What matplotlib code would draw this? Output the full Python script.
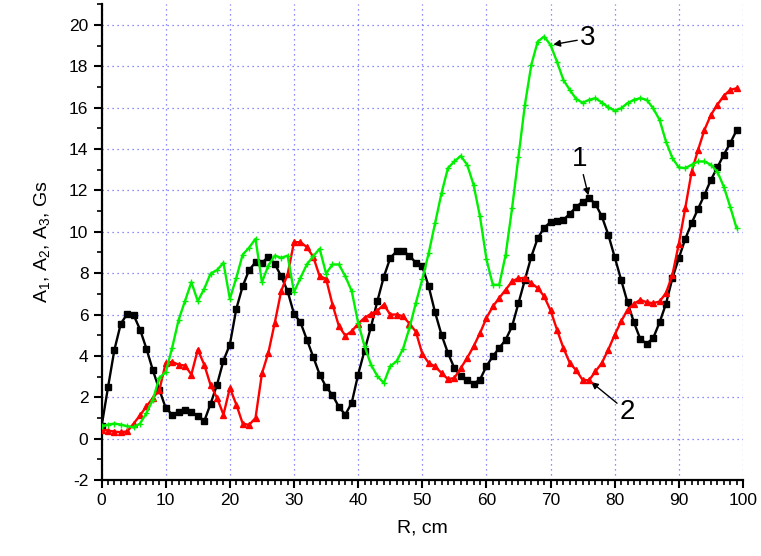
import matplotlib
matplotlib.use("Agg")
import matplotlib.pyplot as plt
from matplotlib.ticker import MultipleLocator

plt.rcParams['font.family'] = ['Liberation Sans', 'DejaVu Sans']
plt.rcParams['mathtext.default'] = 'regular'
plt.rcParams['axes.unicode_minus'] = False

# radius, cm
r = list(range(100))

# curve 1 (black squares)
a1 = [0.6, 2.48, 4.3, 5.56, 6.03, 5.97, 5.27, 4.34, 3.3, 2.37,
      1.48, 1.16, 1.29, 1.37, 1.29, 1.08, 0.84, 1.69, 2.61, 3.77,
      4.55, 6.27, 7.37, 8.15, 8.53, 8.5, 8.79, 8.45, 7.85, 7.13,
      6.03, 5.63, 4.79, 3.95, 3.1, 2.5, 2.11, 1.53, 1.16, 1.73,
      3.1, 4.26, 5.4, 6.65, 7.82, 8.73, 9.06, 9.06, 8.85, 8.5,
      8.33, 7.36, 6.1, 5.02, 4.14, 3.41, 3.04, 2.85, 2.66, 2.85,
      3.5, 3.98, 4.38, 4.78, 5.43, 6.55, 7.68, 8.8, 9.69, 10.2,
      10.47, 10.5, 10.58, 10.87, 11.2, 11.46, 11.63, 11.35, 10.74, 9.86,
      8.78, 7.68, 6.59, 5.62, 4.81, 4.59, 4.86, 5.62, 6.52, 7.76,
      8.73, 9.65, 10.42, 11.11, 11.79, 12.51, 13.11, 13.72, 14.28, 14.9]

# curve 2 (red triangles)
a2 = [0.44, 0.39, 0.34, 0.31, 0.35, 0.73, 1.13, 1.56, 1.97, 2.34,
      3.66, 3.71, 3.58, 3.53, 3.1, 4.3, 3.58, 2.58, 1.97, 1.16,
      2.45, 1.65, 0.73, 0.66, 1.0, 3.15, 4.15, 5.6, 7.13, 7.94,
      9.5, 9.5, 9.26, 8.79, 7.85, 7.73, 6.48, 5.44, 4.98, 5.19,
      5.56, 5.84, 6.03, 6.19, 6.48, 6.0, 6.0, 5.92, 5.56, 5.17,
      4.1, 3.66, 3.49, 3.17, 2.88, 2.93, 3.41, 3.9, 4.46, 5.1,
      5.83, 6.39, 6.8, 7.2, 7.6, 7.76, 7.76, 7.52, 7.28, 6.88,
      6.2, 5.27, 4.38, 3.66, 3.3, 2.84, 2.82, 3.25, 3.66, 4.3,
      5.02, 5.67, 6.23, 6.52, 6.71, 6.59, 6.55, 6.63, 7.04, 7.92,
      9.42, 11.14, 12.91, 13.96, 14.93, 15.65, 16.14, 16.57, 16.86, 16.94]

# curve 3 (green crosses)
a3 = [0.6, 0.68, 0.73, 0.68, 0.6, 0.55, 0.73, 1.24, 1.89, 2.94,
      3.21, 4.39, 5.73, 6.65, 7.56, 6.65, 7.24, 7.98, 8.15, 8.5,
      6.76, 7.77, 8.9, 9.23, 9.66, 7.56, 8.37, 8.85, 8.74, 8.85,
      7.08, 7.77, 8.42, 8.82, 9.18, 7.98, 8.42, 8.42, 7.85, 7.13,
      5.6, 4.47, 3.58, 3.02, 2.69, 3.5, 3.74, 4.34, 5.35, 6.56,
      7.7, 8.97, 10.42, 11.87, 13.08, 13.4, 13.67, 13.24, 12.27, 10.74,
      8.68, 7.44, 7.44, 8.89, 11.14, 13.64, 16.14, 18.07, 19.2, 19.44,
      19.03, 18.23, 17.34, 16.86, 16.42, 16.24, 16.38, 16.46, 16.25, 16.02,
      15.86, 15.97, 16.22, 16.38, 16.46, 16.38, 15.97, 15.41, 14.36, 13.56,
      13.11, 13.08, 13.24, 13.4, 13.4, 13.24, 12.91, 12.19, 11.22, 10.18]

fig = plt.figure(figsize=(7.61, 5.56), dpi=100)
ax = fig.add_axes([0.1335, 0.1367, 0.8428, 0.8556])

ax.plot(r, a1, color='black', lw=1.7, marker='s', ms=4.5, zorder=3)
ax.plot(r, a2, color='red', lw=1.7, marker='^', ms=5, zorder=4)
ax.plot(r, a3, color='#00f000', lw=1.7, marker='+', ms=5, mew=1, zorder=5)

ax.set_xlim(0, 100)
ax.set_ylim(-2, 21)
ax.xaxis.set_major_locator(MultipleLocator(10))
ax.xaxis.set_minor_locator(MultipleLocator(1))
ax.yaxis.set_major_locator(MultipleLocator(2))
ax.yaxis.set_minor_locator(MultipleLocator(1))

for side in ['top', 'right']:
    ax.spines[side].set_visible(False)
for side in ['left', 'bottom']:
    ax.spines[side].set_linewidth(1.6)

ax.tick_params(which='major', direction='out', length=6, width=1.5, labelsize=12.5)
ax.tick_params(which='minor', direction='out', length=3.5, width=1.2)

ax.grid(True, which='major', color='#6666ff', linestyle=(0, (1, 3)), linewidth=0.9)
xg = ax.xaxis.get_gridlines()
xg[0].set_visible(False)
xg[-1].set_visible(False)
ax.yaxis.get_gridlines()[0].set_visible(False)
ax.set_axisbelow(True)

ax.set_xlabel('R, cm', fontsize=14, labelpad=8)
ax.set_ylabel('A$_1$, A$_2$, A$_3$, Gs', fontsize=14, labelpad=12)

# curve numbers
arrow = dict(arrowstyle='-|>', color='black', lw=1, mutation_scale=10, shrinkA=0, shrinkB=2)
ax.annotate('1', xy=(r[76], a1[76]), xytext=(74.5, 12.9), fontsize=20,
            ha='center', va='bottom', arrowprops=arrow)
ax.annotate('2', xy=(r[76], a2[76]), xytext=(82, 1.3), fontsize=20,
            ha='center', va='center', arrowprops=arrow)
ax.annotate('3', xy=(r[70], a3[70]), xytext=(75.8, 19.35), fontsize=20,
            ha='center', va='center', arrowprops=arrow)

fig.savefig('out.png', dpi=100)
